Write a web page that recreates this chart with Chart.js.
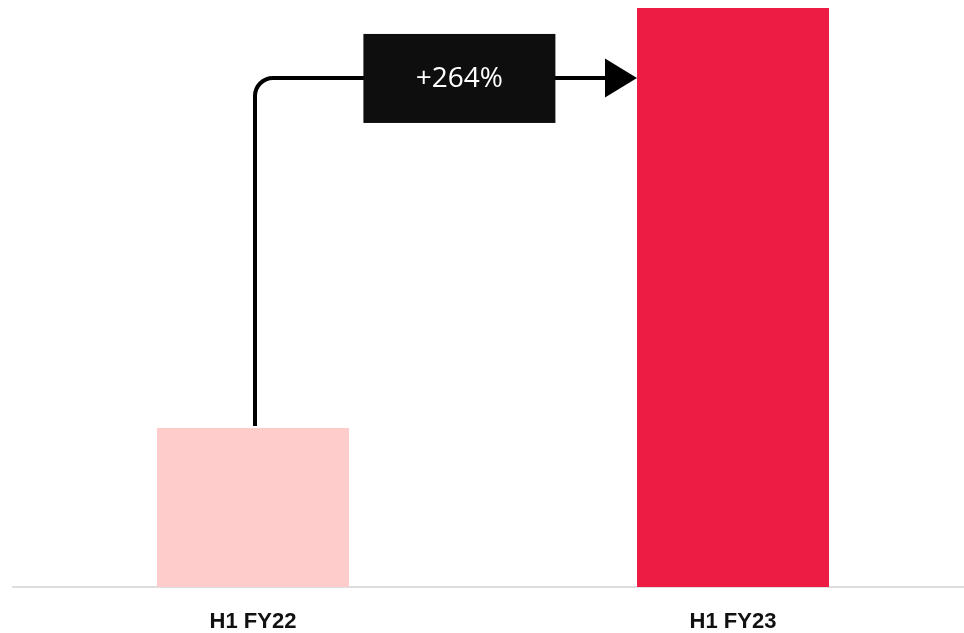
<!DOCTYPE html>
<html>
<head>
<meta charset="utf-8">
<script src="https://cdn.jsdelivr.net/npm/chart.js@4.4.1/dist/chart.umd.min.js"></script>
<style>
  html, body { margin: 0; padding: 0; background: #ffffff; overflow: hidden; }
  #wrap { position: relative; width: 973px; height: 633px; }
</style>
</head>
<body>
<div id="wrap"><canvas id="c"></canvas></div>
<script>
// Half-year comparison
const categories = ['H1 FY22', 'H1 FY23'];
const values = [100, 364];
const barColors = ['#FFCCCC', '#ED1C45'];
const growthLabel = '+264%';
const arrowLevel = 320;   // height of the connector, in value units
const yMax = 369;

// Connector from the first bar to the second, with the growth tag on it
const growthArrow = {
  id: 'growthArrow',
  afterDatasetsDraw(chart) {
    const ctx = chart.ctx;
    const meta = chart.getDatasetMeta(0);
    const b0 = meta.data[0], b1 = meta.data[1];
    const x = chart.scales.x, y = chart.scales.y;
    const yLine = y.getPixelForValue(arrowLevel);
    const startX = b0.x + 2, startY = b0.y - 2;
    const tipX = b1.x - b1.width / 2;
    const r = 18;
    const headLen = 32, headHalf = 19.5;

    ctx.save();
    ctx.strokeStyle = '#000';
    ctx.lineWidth = 4;
    ctx.beginPath();
    ctx.moveTo(startX, startY);
    ctx.lineTo(startX, yLine + r);
    ctx.arcTo(startX, yLine, startX + r, yLine, r);
    ctx.lineTo(tipX - headLen + 1, yLine);
    ctx.stroke();

    ctx.fillStyle = '#000';
    ctx.beginPath();
    ctx.moveTo(tipX, yLine);
    ctx.lineTo(tipX - headLen, yLine - headHalf);
    ctx.lineTo(tipX - headLen, yLine + headHalf);
    ctx.closePath();
    ctx.fill();

    // tag box
    const cx = x.getPixelForValue(0.43);
    const bw = b0.width, bh = 89;
    ctx.fillStyle = '#0E0E0E';
    ctx.fillRect(cx - bw / 2, yLine - 44, bw, bh);
    ctx.fillStyle = '#ffffff';
    ctx.font = '28px "Open Sans", sans-serif';
    ctx.textAlign = 'center';
    ctx.textBaseline = 'middle';
    ctx.fillText(growthLabel, cx, yLine + 1);
    ctx.restore();
  }
};

new Chart(document.getElementById('c'), {
  type: 'bar',
  data: {
    labels: categories,
    datasets: [{
      data: values,
      backgroundColor: barColors,
      borderWidth: 0,
      barPercentage: 0.4,
      categoryPercentage: 1
    }]
  },
  options: {
    responsive: true,
    maintainAspectRatio: false,
    animation: false,
    layout: { padding: { left: 13, right: 0, top: 0, bottom: 0 } },
    plugins: { legend: { display: false }, tooltip: { enabled: false } },
    scales: {
      x: {
        grid: { display: false, drawTicks: false },
        border: { display: true, color: '#DDDDDD', width: 2 },
        ticks: {
          color: '#111111',
          padding: 22,
          font: { family: '"Liberation Sans", Arial, sans-serif', size: 22, weight: 'bold' }
        },
        afterFit(scale) { scale.height = 46; }
      },
      y: {
        display: false,
        min: 0,
        max: yMax
      }
    }
  },
  plugins: [growthArrow]
});
</script>
</body>
</html>
